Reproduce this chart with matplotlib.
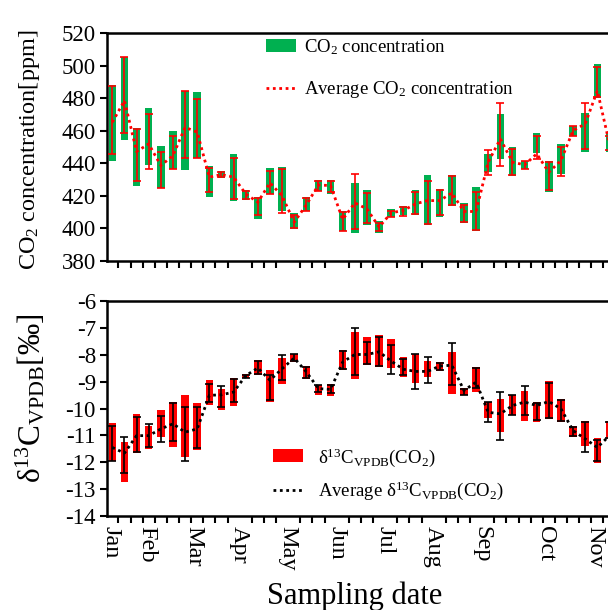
import numpy as np
import matplotlib
matplotlib.use("Agg")
import matplotlib.pyplot as plt
from matplotlib.patches import Patch
from matplotlib.lines import Line2D

plt.rcParams['font.family'] = ['Liberation Serif', 'DejaVu Serif']
plt.rcParams['mathtext.fontset'] = 'custom'
plt.rcParams['mathtext.rm'] = 'Liberation Serif'
plt.rcParams['mathtext.it'] = 'Liberation Serif:italic'
plt.rcParams['mathtext.bf'] = 'Liberation Serif:bold'
plt.rcParams['axes.unicode_minus'] = False

# CO2 concentration per sample [ppm]
co2_box_hi = [488.1, 505.1, 461.9, 473.8, 450.9, 460.1, 484.6, 483.6, 438.6, 435.1, 445.4, 423.5, 419.2, 437.0,
              438.0, 409.6, 419.2, 430.0, 430.0, 411.0, 428.0, 423.9, 404.5, 412.0, 413.7, 423.5, 432.6, 424.3,
              432.9, 415.7, 425.3, 445.8, 470.3, 450.3, 441.7, 458.7, 441.7, 451.9, 463.1, 470.9, 501.0, 458.7]
co2_box_lo = [441.1, 454.6, 426.3, 439.0, 424.7, 436.2, 436.0, 443.1, 419.6, 431.2, 416.9, 417.5, 405.9, 421.2,
              411.0, 399.8, 410.4, 422.7, 421.2, 398.5, 397.3, 402.2, 397.3, 406.9, 408.3, 408.0, 401.9, 406.9,
              413.7, 403.4, 398.7, 434.9, 442.7, 432.5, 436.2, 446.4, 422.2, 433.5, 456.6, 447.2, 479.9, 446.8]
co2_err_hi = [487.3, 505.5, 461.1, 470.3, 446.8, 457.0, 484.4, 479.5, 437.0, 434.9, 443.1, 422.9, 418.6, 435.5,
              436.6, 408.0, 418.6, 429.4, 429.4, 410.0, 433.5, 421.8, 403.4, 411.0, 413.1, 422.2, 429.4, 423.3,
              432.1, 414.5, 422.2, 448.4, 477.1, 448.8, 441.1, 457.0, 440.7, 449.9, 462.7, 477.1, 498.9, 457.0]
co2_err_lo = [445.6, 458.4, 429.0, 436.6, 424.7, 436.2, 443.3, 443.5, 422.2, 431.5, 417.8, 418.2, 408.0, 421.2,
              409.4, 400.2, 411.0, 422.7, 422.2, 398.5, 399.8, 403.4, 398.3, 406.9, 407.9, 408.8, 403.0, 408.0,
              414.5, 403.8, 399.3, 432.9, 438.2, 433.0, 436.6, 442.7, 423.3, 432.5, 457.0, 448.8, 480.5, 448.0]
co2_mean = [465.2, 478.5, 447.2, 451.9, 438.6, 444.7, 462.1, 459.1, 431.5, 433.1, 431.5, 421.2, 416.1, 428.0,
            420.0, 403.8, 414.5, 426.7, 426.3, 405.5, 415.7, 412.0, 400.8, 409.6, 411.0, 415.1, 417.1, 417.1,
            421.8, 410.4, 410.4, 440.7, 455.0, 440.7, 439.0, 445.8, 434.5, 441.7, 460.1, 464.2, 484.6, 452.0]

# d13C (VPDB) per sample [permil]
d13_box_hi = [-10.54, -11.23, -10.20, -10.64, -10.07, -9.76, -9.49, -9.79, -8.95, -9.29, -8.87, -8.70, -8.21, -8.58,
              -8.12, -7.96, -8.42, -9.12, -9.08, -7.83, -7.17, -7.33, -7.27, -7.40, -8.08, -7.96, -8.24, -8.27,
              -7.89, -9.24, -8.45, -9.74, -9.66, -9.49, -9.36, -9.74, -8.99, -9.64, -10.66, -10.45, -11.11, -10.45]
d13_box_lo = [-11.97, -12.72, -11.67, -11.51, -11.07, -11.45, -11.82, -11.53, -9.86, -10.04, -9.91, -8.87, -8.74, -9.76,
              -9.08, -8.27, -8.92, -9.51, -9.54, -8.58, -8.92, -8.37, -8.45, -8.49, -8.83, -9.04, -8.83, -8.62,
              -9.45, -9.51, -9.39, -10.36, -10.88, -10.26, -10.45, -10.51, -10.39, -10.51, -11.07, -11.41, -12.03, -11.13]
d13_err_hi = [-10.64, -11.07, -10.32, -10.58, -10.29, -9.79, -9.95, -9.95, -9.08, -9.17, -8.89, -8.74, -8.24, -8.74,
              -8.02, -7.98, -8.45, -9.14, -9.12, -7.87, -7.02, -7.52, -7.33, -7.62, -8.14, -7.99, -8.08, -8.29,
              -7.58, -9.26, -8.49, -9.76, -9.39, -9.51, -9.17, -9.79, -9.04, -9.70, -10.70, -10.51, -11.16, -10.50]
d13_err_lo = [-11.94, -12.40, -11.63, -11.45, -11.26, -11.20, -11.97, -11.48, -9.76, -9.95, -9.76, -8.85, -8.70, -9.68,
              -8.95, -8.24, -8.87, -9.39, -9.41, -8.52, -8.77, -8.33, -8.42, -8.70, -8.77, -9.26, -9.04, -8.58,
              -9.12, -9.49, -9.24, -10.49, -11.16, -10.24, -10.24, -10.41, -10.36, -10.45, -11.03, -11.61, -11.94, -11.10]
d13_mean = [-11.45, -11.66, -11.01, -11.01, -10.76, -10.57, -10.88, -10.76, -9.51, -9.49, -9.39, -8.78, -8.49, -8.95,
            -8.52, -8.12, -8.64, -9.26, -9.29, -8.27, -7.99, -7.99, -7.89, -8.24, -8.54, -8.62, -8.62, -8.42,
            -8.39, -9.33, -9.02, -10.14, -10.20, -9.89, -9.76, -9.89, -9.74, -10.01, -10.82, -11.13, -11.45, -11.01]

months = ['Jan', 'Feb', 'Mar', 'Apr', 'May', 'Jun', 'Jul', 'Aug', 'Sep', 'Oct', 'Nov']
month_pos = [-0.1, 2.8, 6.7, 10.5, 14.5, 18.5, 22.5, 26.5, 30.5, 35.7, 39.8]

green = '#00b050'
red = '#ff0000'
FS = 16.5

fig = plt.figure(figsize=(6.08, 6.10), dpi=100)
ax1 = fig.add_axes([107 / 608, 1 - 261 / 610, 1 - 107 / 608, 228 / 610])
ax2 = fig.add_axes([107 / 608, 1 - 516 / 610, 1 - 107 / 608, 215 / 610])

x = np.arange(len(co2_mean))


def draw_panel(ax, box_lo, box_hi, err_lo, err_hi, mean, fill, line_col):
    lo = np.array(box_lo)
    hi = np.array(box_hi)
    m = np.array(mean)
    ax.bar(x, hi - lo, bottom=lo, width=0.62, color=fill, edgecolor='none', zorder=2)
    ax.errorbar(x, m, yerr=[m - np.array(err_lo), np.array(err_hi) - m], fmt='none',
                ecolor=line_col, elinewidth=1.2, capsize=2.6, capthick=1.2, zorder=3)
    ax.plot(x, m, linestyle=(0, (1, 1.3)), color=line_col, lw=2.0, zorder=4)
    ax.set_xlim(-0.44, 40.88)
    for s in ['top', 'bottom', 'left']:
        ax.spines[s].set_linewidth(1.8)
    ax.spines['right'].set_visible(False)
    ax.set_xticks(np.arange(0.5, 41, 1), minor=True)
    ax.tick_params(axis='x', which='minor', direction='out', length=5, width=1.5)
    ax.tick_params(axis='y', which='major', direction='out', length=5, width=1.5, labelsize=FS, pad=3)


draw_panel(ax1, co2_box_lo, co2_box_hi, co2_err_lo, co2_err_hi, co2_mean, green, red)
ax1.set_ylim(380, 520)
ax1.set_yticks(np.arange(380, 521, 20))
ax1.set_xticks(month_pos)
ax1.tick_params(axis='x', which='major', length=0, labelbottom=False)

draw_panel(ax2, d13_box_lo, d13_box_hi, d13_err_lo, d13_err_hi, d13_mean, red, 'black')
ax2.set_ylim(-14, -6)
ax2.set_yticks(np.arange(-14, -5, 1))
ax2.set_xticks(month_pos)
ax2.set_xticklabels(months, rotation=-90, fontsize=17.5)
ax2.tick_params(axis='x', which='major', length=0, pad=7)

h1 = [Patch(facecolor=green, edgecolor='none'),
      Line2D([], [], color=red, linestyle=(0, (1, 1.3)), lw=2.0)]
fig.legend(h1, ['CO$_2$ concentration', 'Average CO$_2$ concentration'], loc='upper left',
           bbox_to_anchor=(266 / 608, 1 - 37 / 610), frameon=False, fontsize=13.5,
           handlelength=1.6, handletextpad=0.45, labelspacing=1.2, borderpad=0, borderaxespad=0)

h2 = [Patch(facecolor=red, edgecolor='none'),
      Line2D([], [], color='black', linestyle=(0, (1, 1.3)), lw=2.0)]
fig.legend(h2, ['δ$^{13}$C$_{\\mathrm{VPDB}}$(CO$_2$)', 'Average δ$^{13}$C$_{\\mathrm{VPDB}}$(CO$_2$)'],
           loc='upper left', bbox_to_anchor=(273 / 608, 1 - 446 / 610), frameon=False, fontsize=13.5,
           handlelength=1.6, handletextpad=0.8, labelspacing=0.6, borderpad=0, borderaxespad=0)

fig.text(30 / 608, 1 - 150 / 610, 'CO$_2$ concentration[ppm]', rotation=90, ha='center', va='center',
         fontsize=17.5)
fig.text(31 / 608, 1 - 398 / 610, 'δ$^{13}$C$_{\\mathrm{VPDB}}$[‰]', rotation=90, ha='center', va='center',
         fontsize=22.5)
fig.text(355 / 608, 1 - 596 / 610, 'Sampling date', ha='center', va='center', fontsize=22)

fig.savefig('out.png', dpi=100)
